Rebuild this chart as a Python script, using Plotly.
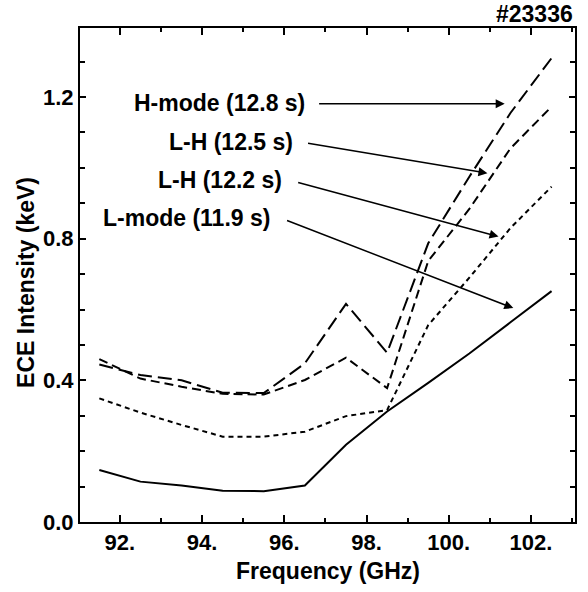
import plotly.graph_objects as go

freq = [91.5, 92.5, 93.5, 94.5, 95.5, 96.5, 97.5, 98.5, 99.5, 100.5, 101.5, 102.5]
h_mode_128 = [0.445, 0.415, 0.400, 0.365, 0.364, 0.448, 0.616, 0.478, 0.787, 0.975, 1.155, 1.310]
lh_125 = [0.460, 0.405, 0.382, 0.362, 0.360, 0.401, 0.464, 0.378, 0.737, 0.884, 1.055, 1.173]
lh_122 = [0.349, 0.309, 0.274, 0.241, 0.241, 0.255, 0.299, 0.316, 0.556, 0.690, 0.830, 0.947]
l_mode_119 = [0.147, 0.114, 0.103, 0.088, 0.087, 0.103, 0.218, 0.312, 0.393, 0.476, 0.564, 0.652]

x_tick_vals = [92, 94, 96, 98, 100, 102]
x_tick_text = ["92.", "94.", "96.", "98.", "100.", "102."]
y_tick_vals = [0.0, 0.4, 0.8, 1.2]
y_tick_text = ["0.0", "0.4", "0.8", "1.2"]

labels = ["H-mode (12.8 s)", "L-H (12.5 s)", "L-H (12.2 s)", "L-mode (11.9 s)"]
# label text right edge / arrow tail / arrow head positions in data units
label_x = [96.54, 96.27, 95.98, 95.71]
label_y = [1.183, 1.073, 0.966, 0.859]
tail_x = [96.81, 96.54, 96.30, 96.03]
tail_y = [1.181, 1.070, 0.960, 0.853]
head_x = [101.36, 100.94, 101.21, 101.57]
head_y = [1.181, 0.985, 0.806, 0.604]

FONT = "Liberation Sans, Arial, Helvetica, sans-serif"

fig = go.Figure()
series = [
    (h_mode_128, "14px,6px"),
    (lh_125, "9px,5px"),
    (lh_122, "5px,4px"),
    (l_mode_119, "solid"),
]
for vals, dash in series:
    fig.add_trace(go.Scatter(x=freq, y=vals, mode="lines",
                             line=dict(color="black", width=2, dash=dash),
                             showlegend=False))

for i, lab in enumerate(labels):
    fig.add_annotation(x=label_x[i], y=label_y[i], xref="x", yref="y",
                       text="<b>" + lab + "</b>", showarrow=False,
                       xanchor="right", yanchor="middle",
                       font=dict(size=23, color="black", family=FONT))
    fig.add_annotation(x=head_x[i], y=head_y[i], ax=tail_x[i], ay=tail_y[i],
                       xref="x", yref="y", axref="x", ayref="y",
                       text="", showarrow=True, arrowhead=2, arrowsize=1.2,
                       arrowwidth=1.5, arrowcolor="black")

fig.add_annotation(x=1.0, y=1.0, xref="paper", yref="paper", yshift=14,
                   text="<b>#23336</b>", showarrow=False,
                   xanchor="right", yanchor="middle",
                   font=dict(size=23, color="black", family=FONT))
fig.add_annotation(x=0.5, y=0, xref="paper", yref="paper", yshift=-49,
                   text="<b>Frequency (GHz)</b>", showarrow=False,
                   xanchor="center", yanchor="middle",
                   font=dict(size=23, color="black", family=FONT))
fig.add_annotation(x=0, y=0.484, xref="paper", yref="paper", xshift=-54,
                   text="<b>ECE Intensity (keV)</b>", showarrow=False,
                   textangle=-90, xanchor="center", yanchor="middle",
                   font=dict(size=23, color="black", family=FONT))

fig.update_xaxes(range=[91.03, 103.07], tickvals=x_tick_vals, ticktext=x_tick_text,
                 ticks="inside", ticklen=7, tickwidth=2, tickcolor="black",
                 minor=dict(ticks="inside", dtick=1, tick0=91, ticklen=4, tickwidth=2, tickcolor="black"),
                 showline=True, linewidth=2, linecolor="black", mirror="ticks",
                 showgrid=False, zeroline=False,
                 tickfont=dict(size=22, color="black", family=FONT, weight="bold"))
fig.update_yaxes(range=[0, 1.395], tickvals=y_tick_vals, ticktext=y_tick_text,
                 ticks="inside", ticklen=6, tickwidth=2, tickcolor="black",
                 minor=dict(ticks="inside", dtick=0.1, tick0=0, ticklen=5, tickwidth=2, tickcolor="black"),
                 showline=True, linewidth=2, linecolor="black", mirror="ticks",
                 showgrid=False, zeroline=False,
                 tickfont=dict(size=22, color="black", family=FONT, weight="bold"))

fig.update_layout(width=588, height=592, margin=dict(l=80, r=11, t=28, b=70),
                  paper_bgcolor="white", plot_bgcolor="white")

fig.write_html("out.html")
